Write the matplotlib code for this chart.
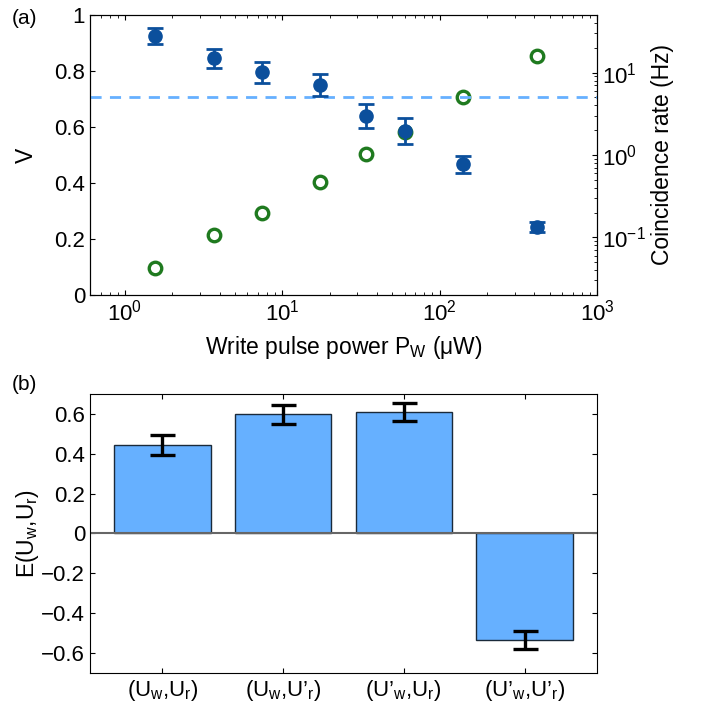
import numpy as np
import matplotlib
matplotlib.use("Agg")
import matplotlib.pyplot as plt
from matplotlib.ticker import LogLocator, NullFormatter, FixedLocator

plt.rcParams['font.family'] = ['Liberation Sans', 'DejaVu Sans']
plt.rcParams['mathtext.fontset'] = 'custom'
plt.rcParams['mathtext.rm'] = 'Liberation Sans'
plt.rcParams['mathtext.it'] = 'Liberation Sans'
plt.rcParams['mathtext.default'] = 'regular'

# ---- data panel (a) ----
power = [1.55, 3.7, 7.4, 17.5, 34, 60, 140, 415]
visibility = [0.926, 0.845, 0.795, 0.749, 0.640, 0.586, 0.466, 0.244]
vis_err = [0.028, 0.033, 0.038, 0.040, 0.042, 0.046, 0.032, 0.018]
coinc_rate = [0.042, 0.107, 0.20, 0.47, 1.03, 1.88, 5.1, 16.1]
threshold = 0.707

# ---- data panel (b) ----
settings = [r"(U$_{w}$,U$_{r}$)", r"(U$_{w}$,U’$_{r}$)",
            r"(U’$_{w}$,U$_{r}$)", r"(U’$_{w}$,U’$_{r}$)"]
corr = [0.444, 0.598, 0.610, -0.534]
corr_err = [0.052, 0.049, 0.044, 0.047]

blue = '#0b4f9c'
green = '#1f7a1f'
light = '#66b0ff'
fs = 16
lfs = 16.5
pfs = 15

fig = plt.figure(figsize=(7.04, 7.17), dpi=100)
ax = fig.add_axes([0.1278, 0.5886, 0.7202, 0.3905])
ax.set_xscale('log')
ax.errorbar(power, visibility, yerr=vis_err, fmt='o', color=blue, ms=9.5,
            elinewidth=2, capsize=6, capthick=2, zorder=3)
ax.axhline(threshold, color=light, ls=(0, (4, 3)), lw=2, zorder=2)
ax.set_xlim(0.6, 1000)
ax.set_ylim(0, 1)
ax.set_yticks([0, 0.2, 0.4, 0.6, 0.8, 1.0])
ax.set_yticklabels(['0', '0.2', '0.4', '0.6', '0.8', '1'])
ax.set_ylabel('V', fontsize=lfs, labelpad=12)
ax.set_xlabel(r'Write pulse power P$_{W}$ (μW)', fontsize=lfs, labelpad=6)
ax.tick_params(which='both', direction='in', top=True, labelsize=fs)
ax.xaxis.set_major_locator(LogLocator(base=10, numticks=10))
ax.xaxis.set_minor_locator(LogLocator(base=10, subs=np.arange(2, 10), numticks=20))
ax.xaxis.set_minor_formatter(NullFormatter())
ax.tick_params(axis='y', right=False)

ax2 = ax.twinx()
ax2.set_yscale('log')
ax2.plot(power, coinc_rate, 'o', mfc='white', mec=green, mew=2.4, ms=9, zorder=4)
ax2.set_ylim(0.02, 50)
ax2.set_ylabel('Coincidence rate (Hz)', fontsize=lfs, labelpad=4)
ax2.yaxis.set_major_locator(FixedLocator([0.1, 1, 10]))
ax2.yaxis.set_minor_locator(LogLocator(base=10, subs=np.arange(2, 10), numticks=20))
ax2.yaxis.set_minor_formatter(NullFormatter())
ax2.tick_params(which='both', direction='in', labelsize=fs)
ax.set_zorder(ax2.get_zorder() + 1)
ax.patch.set_visible(False)

fig.text(0.017, 0.974, '(a)', fontsize=pfs, va='center', ha='left')

# ---- panel (b) ----
bx = fig.add_axes([0.1278, 0.0614, 0.7202, 0.3891])
xpos = np.arange(1, len(corr) + 1)
bx.bar(xpos, corr, width=0.8, color=light, edgecolor='#1a2a3a', lw=1, zorder=2)
bx.errorbar(xpos, corr, yerr=corr_err, fmt='none', ecolor='black',
            elinewidth=2.4, capsize=9, capthick=2.4, zorder=3)
bx.axhline(0, color='#666666', lw=1.5, zorder=2.5)
bx.set_xlim(0.4, 4.6)
bx.set_ylim(-0.7, 0.7)
bx.set_xticks(xpos)
bx.set_xticklabels(settings)
bx.set_yticks([-0.6, -0.4, -0.2, 0, 0.2, 0.4, 0.6])
bx.set_yticklabels(['−0.6', '−0.4', '−0.2', '0', '0.2', '0.4', '0.6'])
bx.set_ylabel(r'E(U$_{w}$,U$_{r}$)', fontsize=lfs, labelpad=0)
bx.tick_params(direction='in', top=True, right=True, labelsize=fs)
fig.text(0.017, 0.464, '(b)', fontsize=pfs, va='center', ha='left')

fig.savefig('out.png', dpi=100)
